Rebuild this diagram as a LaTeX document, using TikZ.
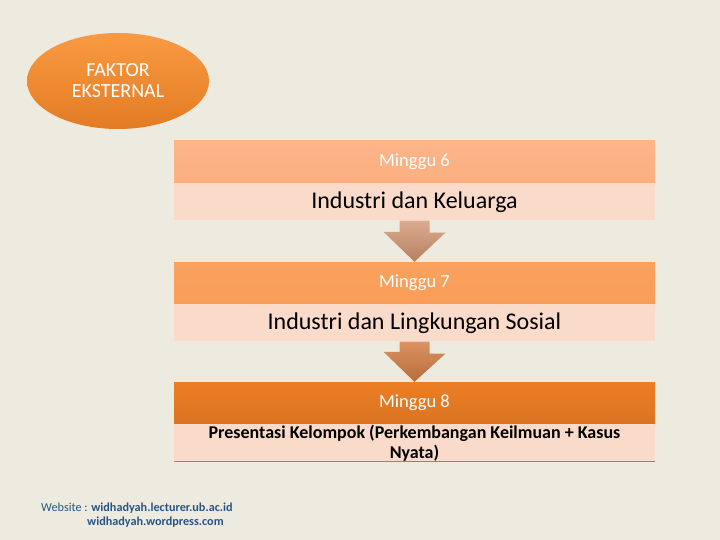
\documentclass[tikz,border=0pt]{standalone}
\usepackage{fontspec}
\setmainfont{Carlito}
\usetikzlibrary{shapes.geometric}
\definecolor{bgbeige}{RGB}{237,234,224}
\definecolor{ovalTop}{RGB}{249,154,66}
\definecolor{ovalBot}{RGB}{226,124,36}
\definecolor{headA}{RGB}{252,180,138}
\definecolor{headB}{RGB}{250,161,96}
\definecolor{headC}{RGB}{237,126,36}
\definecolor{bodyA}{RGB}{250,218,200}
\definecolor{arrowA}{RGB}{212,150,115}
\definecolor{arrowB}{RGB}{214,128,70}
\definecolor{lineBrown}{RGB}{196,116,62}
\definecolor{linkblue}{RGB}{40,85,135}
\tikzset{
  head/.style={minimum width=481pt, minimum height=42pt, inner sep=0pt, text=white, font=\fontsize{18.5}{20}\selectfont},
  body/.style={fill=bodyA, minimum width=481pt, minimum height=37pt, inner sep=0pt, font=\fontsize{24}{26}\selectfont},
  blockarrow/.style={line join=miter}
}
\begin{document}
\begin{tikzpicture}[x=1pt, y=-1pt]
  \fill[bgbeige] (0,0) rectangle (720,540);
  \useasboundingbox (0,0) rectangle (720,540);
  % outer factor
  \node[ellipse, top color=ovalTop, bottom color=ovalBot, minimum width=182pt, minimum height=96pt,
        text=white, align=center, font=\fontsize{20}{21}\selectfont] (faktor) at (118,81) {FAKTOR\\EKSTERNAL};
  % week 6
  \node[head, top color=headA, bottom color=headA!92!orange] (head6) at (414.5,162) {Minggu 6};
  \node[body, anchor=north] (body6) at (head6.south) {Industri dan Keluarga};
  % week 7
  \node[head, top color=headB, bottom color=headB!90!orange] (head7) at (414.5,283) {Minggu 7};
  \node[body, anchor=north] (body7) at (head7.south) {Industri dan Lingkungan Sosial};
  % week 8
  \node[head, top color=headC, bottom color=headC!92!black] (head8) at (414.5,403) {Minggu 8};
  \node[body, anchor=north, align=center, font=\fontsize{18}{20}\selectfont\bfseries] (body8) at (head8.south)
        {Presentasi Kelompok (Perkembangan Keilmuan + Kasus\\Nyata)};
  \draw[lineBrown, line width=1.5pt] (body8.south west) -- (body8.south east);
  % arrows between weeks
  \shade[blockarrow, top color=arrowA!80!white, bottom color=arrowA!85!black]
    (body6.south) ++(-15,0) -- ++(30,0) -- ++(0,12) -- ++(16,0) -- (head7.north) -- ++(-31,-30) -- ++(16,0) -- cycle;
  \shade[blockarrow, top color=arrowB!85!white, bottom color=arrowB!85!black]
    (body7.south) ++(-15,0) -- ++(30,0) -- ++(0,12) -- ++(16,0) -- (head8.north) -- ++(-31,-30) -- ++(16,0) -- cycle;
  % footer
  \node[anchor=west, inner sep=0pt, text=linkblue, font=\fontsize{12.2}{14}\selectfont] (web1) at (41,508)
        {Website : \textbf{widhadyah.lecturer.ub.ac.id}};
  \node[anchor=west, inner sep=0pt, text=linkblue, font=\fontsize{12.2}{14}\selectfont\bfseries] (web2) at (87,522)
        {widhadyah.wordpress.com};
\end{tikzpicture}
\end{document}
